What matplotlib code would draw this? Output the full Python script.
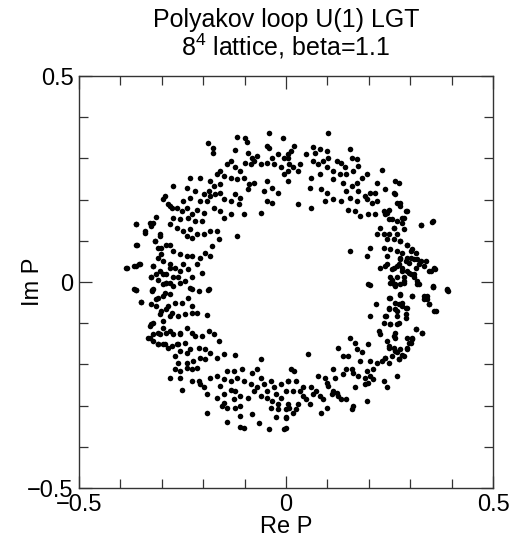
import matplotlib
matplotlib.use("Agg")
import matplotlib.pyplot as plt
from matplotlib.ticker import MultipleLocator

# Polyakov loop samples (Re P, Im P),
# grouped by the part of the ring they sit in.
upper_left = [
    (-0.118, 0.352), (-0.100, 0.350), (-0.041, 0.362), (-0.007, 0.349), (-0.189, 0.338),
    (-0.176, 0.326), (-0.176, 0.314), (-0.122, 0.320), (-0.095, 0.341), (-0.047, 0.330),
    (-0.041, 0.326), (-0.093, 0.314), (-0.081, 0.302), (-0.069, 0.306), (-0.098, 0.290),
    (-0.085, 0.286), (-0.077, 0.294), (-0.061, 0.286), (-0.045, 0.290), (-0.033, 0.302),
    (-0.020, 0.310), (-0.004, 0.302), (0.004, 0.310), (-0.028, 0.286), (-0.012, 0.278),
    (0.004, 0.269), (-0.134, 0.294), (-0.142, 0.286), (-0.122, 0.278), (-0.110, 0.269),
    (-0.159, 0.269), (-0.167, 0.261), (-0.150, 0.257), (-0.134, 0.253), (-0.118, 0.249),
    (-0.102, 0.253), (-0.089, 0.237), (-0.077, 0.241), (-0.093, 0.225), (-0.045, 0.245),
    (-0.053, 0.221), (-0.033, 0.229), (-0.020, 0.217), (0.004, 0.245), (-0.004, 0.261),
    (-0.045, 0.197), (-0.033, 0.193), (-0.061, 0.168), (-0.232, 0.253), (-0.207, 0.253),
    (-0.183, 0.245), (-0.175, 0.233), (-0.159, 0.237), (-0.187, 0.221), (-0.199, 0.213),
    (-0.183, 0.209), (-0.171, 0.213), (-0.159, 0.217), (-0.150, 0.201), (-0.134, 0.197),
    (-0.122, 0.213), (-0.110, 0.205), (-0.114, 0.189), (-0.102, 0.164), (-0.159, 0.172),
    (-0.175, 0.180), (-0.191, 0.197), (-0.207, 0.197), (-0.220, 0.221), (-0.240, 0.229),
    (-0.232, 0.205), (-0.248, 0.197), (-0.272, 0.233), (-0.297, 0.201), (-0.280, 0.184),
    (-0.264, 0.180), (-0.252, 0.172), (-0.240, 0.180), (-0.228, 0.164), (-0.215, 0.176),
    (-0.199, 0.168), (-0.203, 0.148), (-0.220, 0.148), (-0.236, 0.156), (-0.256, 0.152),
    (-0.272, 0.156), (-0.280, 0.140), (-0.264, 0.132), (-0.248, 0.124), (-0.232, 0.128),
    (-0.240, 0.112), (-0.228, 0.108), (-0.215, 0.116), (-0.199, 0.116), (-0.183, 0.124),
    (-0.167, 0.124), (-0.150, 0.156), (-0.134, 0.164), (-0.118, 0.112), (-0.163, 0.104),
    (-0.179, 0.087), (-0.195, 0.071), (-0.183, 0.063), (-0.207, 0.059), (-0.228, 0.063),
    (-0.240, 0.063), (-0.256, 0.067), (-0.272, 0.075), (-0.280, 0.091), (-0.305, 0.112),
    (-0.321, 0.144), (-0.341, 0.124), (-0.362, 0.140), (-0.317, 0.100), (-0.309, 0.083),
    (-0.301, 0.067), (-0.297, 0.051), (-0.280, 0.043), (-0.268, 0.035), (-0.256, 0.027),
    (-0.260, 0.011), (-0.272, 0.011), (-0.289, 0.019), (-0.305, 0.027), (-0.321, 0.039),
    (-0.313, 0.019), (-0.325, 0.011), (-0.297, -0.006), (-0.280, -0.002), (-0.248, 0.043),
    (-0.236, 0.031), (-0.215, 0.043), (-0.203, 0.023), (-0.228, 0.011), (-0.244, 0.002),
    (-0.354, 0.043), (-0.366, 0.039), (-0.386, 0.035), (-0.362, 0.091), (-0.366, -0.018),
    (-0.321, -0.018), (-0.228, -0.018), (-0.187, -0.018),
]

upper_right = [
    (0.102, 0.361), (0.020, 0.330), (0.012, 0.318), (0.004, 0.302), (0.008, 0.286),
    (0.016, 0.278), (0.033, 0.286), (0.028, 0.269), (0.049, 0.310), (0.065, 0.328),
    (0.069, 0.314), (0.081, 0.322), (0.098, 0.318), (0.065, 0.294), (0.077, 0.286),
    (0.089, 0.294), (0.102, 0.302), (0.098, 0.278), (0.114, 0.269), (0.122, 0.294),
    (0.134, 0.290), (0.142, 0.278), (0.154, 0.322), (0.159, 0.302), (0.171, 0.298),
    (0.175, 0.282), (0.163, 0.269), (0.146, 0.261), (0.130, 0.261), (0.114, 0.249),
    (0.081, 0.261), (0.061, 0.253), (0.057, 0.229), (0.085, 0.225), (0.098, 0.217),
    (0.138, 0.241), (0.146, 0.221), (0.159, 0.233), (0.171, 0.241), (0.183, 0.253),
    (0.195, 0.261), (0.175, 0.221), (0.191, 0.209), (0.203, 0.217), (0.220, 0.241),
    (0.240, 0.225), (0.232, 0.273), (0.215, 0.217), (0.220, 0.197), (0.207, 0.193),
    (0.195, 0.201), (0.171, 0.197), (0.154, 0.205), (0.134, 0.197), (0.114, 0.201),
    (0.093, 0.197), (0.028, 0.189), (0.061, 0.179), (0.150, 0.176), (0.167, 0.172),
    (0.179, 0.160), (0.199, 0.164), (0.215, 0.164), (0.236, 0.172), (0.264, 0.244),
    (0.272, 0.241), (0.260, 0.217), (0.276, 0.193), (0.293, 0.172), (0.280, 0.156),
    (0.268, 0.148), (0.248, 0.152), (0.244, 0.168), (0.260, 0.132), (0.285, 0.128),
    (0.325, 0.138), (0.354, 0.148), (0.228, 0.132), (0.236, 0.116), (0.220, 0.116),
    (0.244, 0.104), (0.260, 0.104), (0.276, 0.100), (0.293, 0.091), (0.305, 0.079),
    (0.236, 0.083), (0.252, 0.079), (0.268, 0.075), (0.280, 0.071), (0.154, 0.075),
    (0.195, 0.063), (0.203, 0.083), (0.244, 0.063), (0.276, 0.055), (0.293, 0.059),
    (0.309, 0.055), (0.325, 0.051), (0.313, 0.035), (0.333, 0.039), (0.350, 0.027),
    (0.358, 0.035), (0.228, 0.035), (0.244, 0.043), (0.260, 0.035), (0.280, 0.035),
    (0.293, 0.027), (0.301, 0.019), (0.252, 0.011), (0.268, 0.011), (0.285, 0.011),
    (0.309, 0.011), (0.260, -0.006), (0.276, -0.006), (0.321, -0.006), (0.354, -0.010),
    (0.390, -0.018), (0.199, -0.006), (0.272, 0.043), (0.297, 0.047),
]

lower_left = [
    (-0.362, -0.020), (-0.323, -0.022), (-0.289, -0.002), (-0.272, -0.010), (-0.256, -0.002),
    (-0.232, -0.014), (-0.211, -0.022), (-0.189, -0.020), (-0.350, -0.048), (-0.325, -0.054),
    (-0.313, -0.042), (-0.297, -0.034), (-0.280, -0.030), (-0.268, -0.050), (-0.252, -0.050),
    (-0.236, -0.038), (-0.228, -0.058), (-0.289, -0.066), (-0.276, -0.074), (-0.260, -0.083),
    (-0.244, -0.078), (-0.228, -0.074), (-0.215, -0.074), (-0.191, -0.080), (-0.305, -0.078),
    (-0.297, -0.095), (-0.321, -0.099), (-0.329, -0.107), (-0.333, -0.135), (-0.321, -0.143),
    (-0.305, -0.127), (-0.289, -0.123), (-0.272, -0.127), (-0.256, -0.123), (-0.240, -0.111),
    (-0.228, -0.123), (-0.220, -0.131), (-0.203, -0.131), (-0.187, -0.119), (-0.175, -0.127),
    (-0.163, -0.143), (-0.309, -0.151), (-0.293, -0.151), (-0.276, -0.155), (-0.260, -0.151),
    (-0.244, -0.147), (-0.268, -0.180), (-0.256, -0.167), (-0.240, -0.172), (-0.232, -0.163),
    (-0.211, -0.159), (-0.195, -0.163), (-0.183, -0.172), (-0.207, -0.184), (-0.224, -0.192),
    (-0.240, -0.196), (-0.260, -0.196), (-0.268, -0.212), (-0.256, -0.216), (-0.240, -0.208),
    (-0.228, -0.212), (-0.215, -0.208), (-0.195, -0.188), (-0.167, -0.184), (-0.150, -0.174),
    (-0.122, -0.177), (-0.280, -0.232), (-0.256, -0.232), (-0.228, -0.240), (-0.211, -0.240),
    (-0.199, -0.256), (-0.207, -0.248), (-0.183, -0.232), (-0.167, -0.228), (-0.150, -0.236),
    (-0.142, -0.216), (-0.126, -0.216), (-0.159, -0.252), (-0.134, -0.240), (-0.118, -0.232),
    (-0.106, -0.212), (-0.102, -0.240), (-0.085, -0.248), (-0.061, -0.188), (-0.069, -0.212),
    (-0.081, -0.220), (-0.061, -0.232), (-0.069, -0.256), (-0.053, -0.248), (-0.037, -0.240),
    (-0.045, -0.265), (-0.028, -0.256), (-0.012, -0.248), (0.004, -0.240), (-0.024, -0.273),
    (-0.012, -0.281), (0.000, -0.265), (-0.252, -0.261), (-0.191, -0.271), (-0.167, -0.281),
    (-0.150, -0.273), (-0.134, -0.261), (-0.122, -0.265), (-0.110, -0.277), (-0.126, -0.285),
    (-0.093, -0.281), (-0.077, -0.265), (-0.061, -0.277), (-0.045, -0.281), (-0.033, -0.289),
    (-0.020, -0.297), (0.004, -0.297), (-0.150, -0.293), (-0.142, -0.305), (-0.122, -0.305),
    (-0.110, -0.301), (-0.154, -0.301), (-0.037, -0.305), (-0.020, -0.309), (0.000, -0.309),
    (-0.191, -0.319), (-0.142, -0.340), (-0.110, -0.325), (-0.081, -0.321), (-0.065, -0.343),
    (-0.110, -0.352), (-0.102, -0.355), (-0.041, -0.356), (-0.004, -0.356), (-0.024, -0.328),
    (0.000, -0.328),
]

lower_right = [
    (0.202, -0.007), (0.252, -0.002), (0.264, -0.010), (0.285, -0.002), (0.317, -0.006),
    (0.355, -0.011), (0.392, -0.022), (0.248, -0.038), (0.276, -0.032), (0.305, -0.034),
    (0.333, -0.034), (0.341, -0.042), (0.358, -0.070), (0.346, -0.054), (0.218, -0.054),
    (0.248, -0.062), (0.264, -0.066), (0.272, -0.054), (0.280, -0.050), (0.289, -0.062),
    (0.268, -0.083), (0.242, -0.083), (0.202, -0.083), (0.236, -0.099), (0.252, -0.101),
    (0.268, -0.103), (0.289, -0.087), (0.313, -0.115), (0.329, -0.123), (0.293, -0.135),
    (0.305, -0.139), (0.301, -0.147), (0.264, -0.123), (0.260, -0.131), (0.224, -0.119),
    (0.228, -0.127), (0.244, -0.143), (0.248, -0.155), (0.260, -0.159), (0.268, -0.171),
    (0.276, -0.163), (0.293, -0.163), (0.285, -0.180), (0.272, -0.188), (0.256, -0.180),
    (0.240, -0.184), (0.232, -0.192), (0.220, -0.196), (0.203, -0.192), (0.199, -0.151),
    (0.183, -0.171), (0.171, -0.163), (0.167, -0.147), (0.154, -0.135), (0.126, -0.159),
    (0.150, -0.180), (0.138, -0.180), (0.179, -0.192), (0.159, -0.212), (0.163, -0.220),
    (0.146, -0.212), (0.138, -0.224), (0.175, -0.228), (0.195, -0.216), (0.211, -0.212),
    (0.203, -0.228), (0.191, -0.232), (0.199, -0.244), (0.191, -0.248), (0.211, -0.236),
    (0.236, -0.240), (0.244, -0.256), (0.268, -0.228), (0.167, -0.256), (0.118, -0.232),
    (0.114, -0.212), (0.098, -0.244), (0.093, -0.232), (0.077, -0.228), (0.073, -0.265),
    (0.081, -0.277), (0.089, -0.285), (0.061, -0.256), (0.065, -0.273), (0.049, -0.285),
    (0.057, -0.297), (0.041, -0.256), (0.041, -0.277), (0.033, -0.265), (0.024, -0.240),
    (0.016, -0.265), (0.012, -0.212), (0.020, -0.216), (0.004, -0.240), (0.028, -0.297),
    (0.024, -0.309), (0.016, -0.317), (0.008, -0.305), (0.000, -0.329), (0.000, -0.354),
    (0.085, -0.317), (0.098, -0.305), (0.102, -0.252), (0.114, -0.265), (0.126, -0.277),
    (0.134, -0.285), (0.146, -0.285), (0.122, -0.269), (0.110, -0.273), (0.163, -0.301),
    (0.159, -0.307), (0.195, -0.289), (0.054, -0.174),
]

left_edge = [
    (-0.363, 0.140), (-0.341, 0.120), (-0.360, 0.091), (-0.329, 0.144), (-0.325, 0.136),
    (-0.313, 0.158), (-0.385, 0.033), (-0.362, 0.039), (-0.352, 0.044), (-0.363, -0.020),
    (-0.350, -0.048), (-0.323, -0.020), (-0.325, -0.103), (-0.329, -0.135), (-0.321, -0.127),
    (-0.309, -0.151), (-0.285, 0.189), (-0.276, 0.180), (-0.293, 0.209), (-0.305, 0.116),
    (-0.317, 0.100), (-0.301, 0.083), (-0.309, 0.059), (-0.289, 0.091), (-0.321, 0.039),
    (-0.325, 0.011), (-0.309, 0.006), (-0.297, 0.019), (-0.280, 0.035), (-0.289, -0.002),
    (-0.309, -0.038), (-0.293, -0.026), (-0.313, -0.058), (-0.301, -0.070), (-0.285, -0.058),
    (-0.280, -0.083), (-0.297, -0.111), (-0.309, -0.123), (-0.280, -0.119), (-0.297, -0.151),
    (-0.285, -0.159), (-0.264, -0.151), (-0.256, -0.127),
]

right_edge = [
    (0.263, 0.213), (0.268, 0.193), (0.276, 0.184), (0.289, 0.172), (0.285, 0.156),
    (0.280, 0.144), (0.325, 0.138), (0.352, 0.146), (0.248, 0.176), (0.240, 0.164),
    (0.256, 0.152), (0.260, 0.132), (0.248, 0.116), (0.268, 0.116), (0.276, 0.100),
    (0.293, 0.091), (0.301, 0.075), (0.313, 0.071), (0.301, 0.059), (0.317, 0.055),
    (0.321, 0.043), (0.337, 0.051), (0.346, 0.027), (0.360, 0.031), (0.289, 0.051),
    (0.276, 0.059), (0.268, 0.039), (0.256, 0.031), (0.240, 0.039), (0.280, 0.027),
    (0.297, 0.023), (0.309, 0.019), (0.317, 0.002), (0.256, 0.006), (0.264, -0.006),
    (0.285, 0.002), (0.354, -0.011), (0.390, -0.020), (0.305, -0.034), (0.333, -0.042),
    (0.341, -0.034), (0.346, -0.054), (0.362, -0.070), (0.276, -0.030), (0.252, -0.038),
    (0.264, -0.050), (0.280, -0.058), (0.293, -0.062), (0.268, -0.070), (0.248, -0.066),
    (0.289, -0.078), (0.272, -0.099), (0.240, -0.083), (0.252, -0.103), (0.313, -0.113),
    (0.329, -0.123), (0.305, -0.135), (0.297, -0.147), (0.293, -0.159), (0.280, -0.176),
    (0.264, -0.135), (0.264, -0.167), (0.248, -0.159), (0.240, -0.184), (0.272, -0.188),
    (0.248, -0.196),
]

points = upper_left + upper_right + lower_left + lower_right + left_edge + right_edge
re_p = [p[0] for p in points]
im_p = [p[1] for p in points]

plt.rcParams['font.family'] = ['Liberation Sans', 'DejaVu Sans']
plt.rcParams['mathtext.fontset'] = 'custom'
plt.rcParams['mathtext.rm'] = 'Liberation Sans'

fig = plt.figure(figsize=(5.12, 5.38), dpi=100)
ax = fig.add_axes([0.1543, 0.0929, 0.8086, 0.7658])

ax.scatter(re_p, im_p, s=16, c='black', linewidths=0)

ax.set_xlim(-0.5, 0.5)
ax.set_ylim(-0.5, 0.5)
ax.xaxis.set_major_locator(MultipleLocator(0.5))
ax.yaxis.set_major_locator(MultipleLocator(0.5))
ax.xaxis.set_minor_locator(MultipleLocator(0.1))
ax.yaxis.set_minor_locator(MultipleLocator(0.1))
ax.xaxis.set_major_formatter(lambda v, pos: '0' if abs(v) < 1e-9 else f'{v:g}'.replace('-', '\u2212'))
ax.yaxis.set_major_formatter(lambda v, pos: '0' if abs(v) < 1e-9 else f'{v:g}'.replace('-', '\u2212'))

ax.tick_params(which='both', direction='in', top=True, right=True, labelsize=17, color='#333333')
ax.tick_params(which='major', length=9, width=0.9)
ax.tick_params(which='minor', length=6.5, width=0.9)
ax.tick_params(axis='x', which='major', pad=4)
ax.tick_params(axis='y', which='major', pad=4)
for s in ax.spines.values():
    s.set_linewidth(1.0)
    s.set_color('#333333')

ax.set_xlabel('Re P', fontsize=17)
ax.set_ylabel('Im P', fontsize=17)
ax.xaxis.set_label_coords(0.5, -0.068)
ax.yaxis.set_label_coords(-0.085, 0.5)

# two-line title, placed line by line to match the reference spacing
title_x = 0.5586
fig.text(title_x, 0.949, 'Polyakov loop U(1) LGT', fontsize=18, ha='center', va='baseline')
fig.text(title_x, 0.896, '$\\mathregular{8^4}$ lattice, beta=1.1', fontsize=18, ha='center', va='baseline')

fig.savefig('out.png', dpi=100)
